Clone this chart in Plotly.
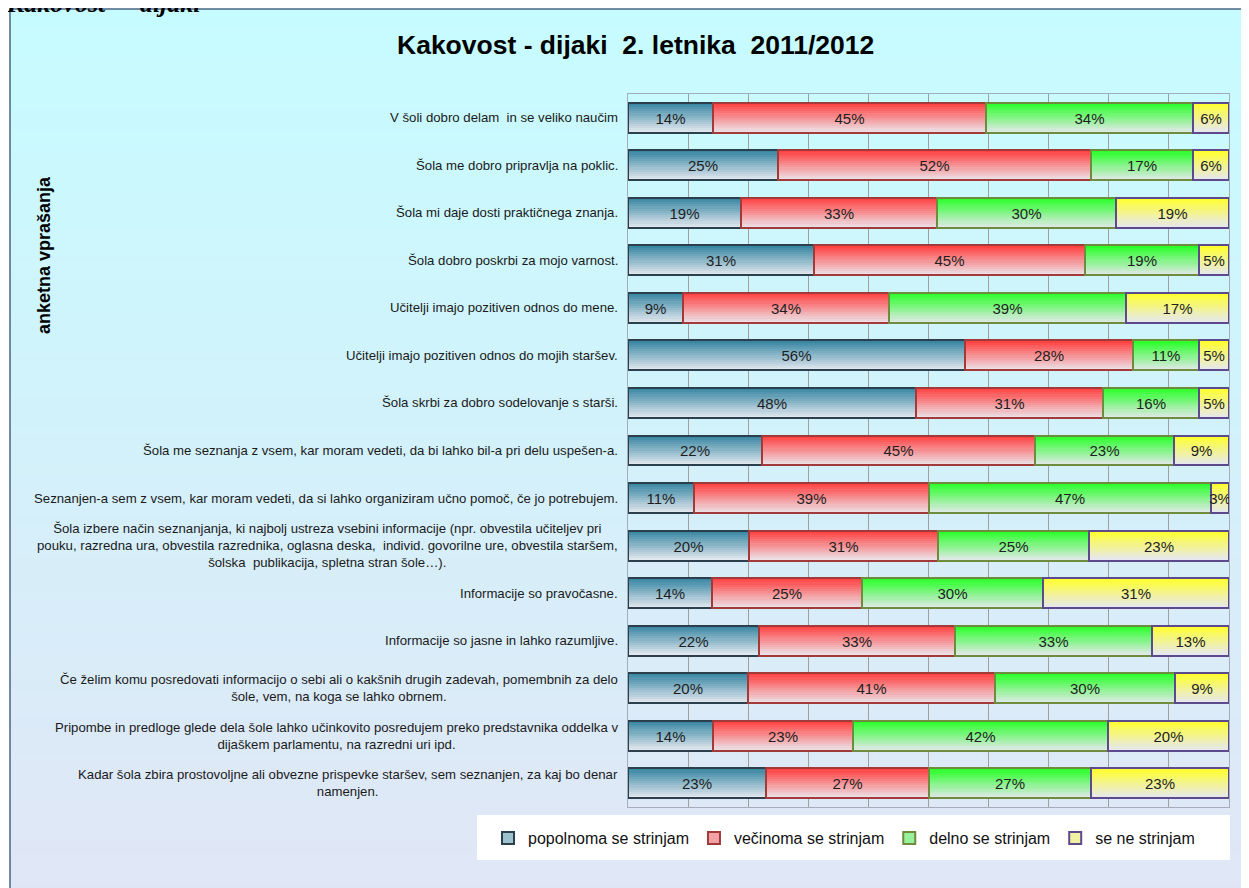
import zlib, struct, base64
import plotly.graph_objects as go

categories = [
    "V šoli dobro delam  in se veliko naučim",
    "Šola me dobro pripravlja na poklic.",
    "Šola mi daje dosti praktičnega znanja.",
    "Šola dobro poskrbi za mojo varnost.",
    "Učitelji imajo pozitiven odnos do mene.",
    "Učitelji imajo pozitiven odnos do mojih staršev.",
    "Šola skrbi za dobro sodelovanje s starši.",
    "Šola me seznanja z vsem, kar moram vedeti, da bi lahko bil-a pri delu uspešen-a.",
    "Seznanjen-a sem z vsem, kar moram vedeti, da si lahko organiziram učno pomoč, če jo potrebujem.",
    "Šola izbere način seznanjanja, ki najbolj ustreza vsebini informacije (npr. obvestila učiteljev pri<br>pouku, razredna ura, obvestila razrednika, oglasna deska,  individ. govorilne ure, obvestila staršem,<br>šolska  publikacija, spletna stran šole…).",
    "Informacije so pravočasne.",
    "Informacije so jasne in lahko razumljive.",
    "Če želim komu posredovati informacijo o sebi ali o kakšnih drugih zadevah, pomembnih za delo<br>šole, vem, na koga se lahko obrnem.",
    "Pripombe in predloge glede dela šole lahko učinkovito posredujem preko predstavnika oddelka v<br>dijaškem parlamentu, na razredni uri ipd.",
    "Kadar šola zbira prostovoljne ali obvezne prispevke staršev, sem seznanjen, za kaj bo denar<br>namenjen.",
]

series_names = ["popolnoma se strinjam", "večinoma se strinjam", "delno se strinjam", "se ne strinjam"]
popolnoma = [14, 25, 19, 31, 9, 56, 48, 22, 11, 20, 14, 22, 20, 14, 23]
vecinoma = [45, 52, 33, 45, 34, 28, 31, 45, 39, 31, 25, 33, 41, 23, 27]
delno = [34, 17, 30, 19, 39, 11, 16, 23, 47, 25, 30, 33, 30, 42, 27]
se_ne = [6, 6, 19, 5, 17, 5, 5, 9, 3, 23, 31, 13, 9, 20, 23]

title_text = "Kakovost - dijaki&nbsp; 2. letnika&nbsp; 2011/2012"
page_heading = "Kakovost&nbsp; -&nbsp; dijaki"
y_title = "anketna vprašanja"

# styles
top_colors = ["#3a87a3", "#ff4343", "#2aff2a", "#ffff2e"]
bottom_colors = ["#e1e7ee", "#ece0e6", "#dfe9e6", "#e6e8ef"]
border_colors = ["#2c3f4c", "#a23a3a", "#6f8c3e", "#5d4a8c"]
FONT = "Arial, Liberation Sans"

OFF = 8                      # page offset of the figure (body margin)
W, H = 1241, 880             # figure size
L, R, T, B = 628, 1229, 94, 807   # plot area in page pixels
PW, PH = R - L, B - T


def fx(px):
    return (px - L) / PW


def fy(py):
    return (B - py) / PH


def hex2rgb(h):
    h = h.lstrip("#")
    return tuple(int(h[i:i + 2], 16) for i in (0, 2, 4))


def mix(c1, c2, t):
    a, b = hex2rgb(c1), hex2rgb(c2)
    return "rgb(%d,%d,%d)" % tuple(round(a[i] + (b[i] - a[i]) * t) for i in range(3))


def png_vgrad(h, c_top, c_bot):
    a, b = hex2rgb(c_top), hex2rgb(c_bot)
    rows = b""
    for i in range(h):
        t = i / (h - 1)
        px = bytes(round(a[j] + (b[j] - a[j]) * t) for j in range(3))
        rows += b"\x00" + px + px

    def chunk(tag, data):
        return (struct.pack(">I", len(data)) + tag + data
                + struct.pack(">I", zlib.crc32(tag + data) & 0xffffffff))

    png = (b"\x89PNG\r\n\x1a\n"
           + chunk(b"IHDR", struct.pack(">IIBBBBB", 2, h, 8, 2, 0, 0, 0))
           + chunk(b"IDAT", zlib.compress(rows))
           + chunk(b"IEND", b""))
    return "data:image/png;base64," + base64.b64encode(png).decode()


data = [popolnoma, vecinoma, delno, se_ne]
totals = [sum(col) for col in zip(*data)]
norm = [[v / t * 100 for v, t in zip(s, totals)] for s in data]
starts = []
acc = [0.0] * len(categories)
for s in norm:
    starts.append(acc[:])
    acc = [a + v for a, v in zip(acc, s)]

BW = 0.63
K = 14
fig = go.Figure()
for si in range(4):
    for k in range(K):
        t = k / (K - 1)
        fig.add_trace(go.Bar(
            y=categories, x=norm[si], base=starts[si], orientation="h",
            width=BW / K * 1.08, offset=-BW / 2 + k * BW / K,
            marker=dict(color=mix(top_colors[si], bottom_colors[si], t), line=dict(width=0)),
            showlegend=False, hoverinfo="skip"))

for si in range(4):
    fig.add_trace(go.Bar(
        y=categories, x=norm[si], base=starts[si], orientation="h",
        width=BW, offset=-BW / 2,
        marker=dict(color="rgba(0,0,0,0)", line=dict(color=border_colors[si], width=2)),
        text=[f"{v}%" for v in data[si]], textposition="inside",
        insidetextanchor="middle", constraintext="none", textangle=0,
        textfont=dict(size=15, color="#1e1e1e", family=FONT),
        showlegend=False, hoverinfo="skip"))

for si in range(4):
    fig.add_trace(go.Bar(
        y=[None], x=[None], orientation="h", name=series_names[si],
        marker=dict(color=mix(top_colors[si], bottom_colors[si], 0.6),
                    line=dict(color=border_colors[si], width=2))))

annotations = []
for c in categories:
    annotations.append(dict(
        x=fx(620), y=c, xref="paper", yref="y", xanchor="right", yanchor="middle",
        text=c, showarrow=False, align="center",
        font=dict(size=13.2, color="#1a1a1a", family=FONT)))
annotations.append(dict(
    x=fx(635), y=fy(45), xref="paper", yref="paper", xanchor="center", yanchor="middle",
    text="<b>" + title_text + "</b>", showarrow=False,
    font=dict(size=26.5, color="#000000", family=FONT)))
annotations.append(dict(
    x=fx(44), y=fy(255), xref="paper", yref="paper", xanchor="center", yanchor="middle",
    text="<b>" + y_title + "</b>", showarrow=False, textangle=-90,
    font=dict(size=18, color="#000000", family=FONT)))
annotations.append(dict(
    x=fx(4), y=fy(4), xref="paper", yref="paper", xanchor="left", yanchor="middle",
    text="<b><i>" + page_heading + "</i></b>", showarrow=False,
    font=dict(size=26, color="#000000", family="Liberation Serif, Times New Roman")))

fig.update_layout(
    width=W, height=H, autosize=False,
    margin=dict(l=L - OFF, r=W - (R - OFF), t=T - OFF, b=H - (B - OFF), pad=0),
    paper_bgcolor="white", plot_bgcolor="#ffffcc",
    barmode="overlay", bargap=0,
    showlegend=True,
    legend=dict(orientation="h", x=fx(488), y=fy(821), xanchor="left", yanchor="top",
                bgcolor="rgba(0,0,0,0)", font=dict(size=16, color="#111111", family=FONT),
                traceorder="normal", itemclick=False),
    xaxis=dict(range=[0, 100], showticklabels=False, ticks="", dtick=10, showgrid=True,
               gridcolor="#a0a0a0", gridwidth=1, zeroline=False, showline=True, mirror=True,
               linecolor="#a4adb8", linewidth=1, fixedrange=True),
    yaxis=dict(categoryorder="array", categoryarray=categories, autorange="reversed",
               showticklabels=False, ticks="", showgrid=False, showline=True, mirror=True,
               linecolor="#a4adb8", linewidth=1, fixedrange=True),
    annotations=annotations,
    images=[dict(source=png_vgrad(256, "#c6fcff", "#e1e6f6"), xref="paper", yref="paper",
                 x=fx(10), y=fy(9), sizex=fx(1275) - fx(10), sizey=fy(9) - fy(905),
                 xanchor="left", yanchor="top", sizing="stretch", layer="below")],
    shapes=[
        dict(type="rect", xref="paper", yref="paper", x0=fx(10), x1=fx(1275), y0=fy(905), y1=fy(9),
             line=dict(color="#4a6682", width=1.5), fillcolor="rgba(0,0,0,0)", layer="below"),
        dict(type="rect", xref="paper", yref="paper", x0=fx(477), x1=fx(1230), y0=fy(860), y1=fy(815),
             line=dict(width=0), fillcolor="white", layer="above"),
    ],
)

fig.write_html("out.html")
